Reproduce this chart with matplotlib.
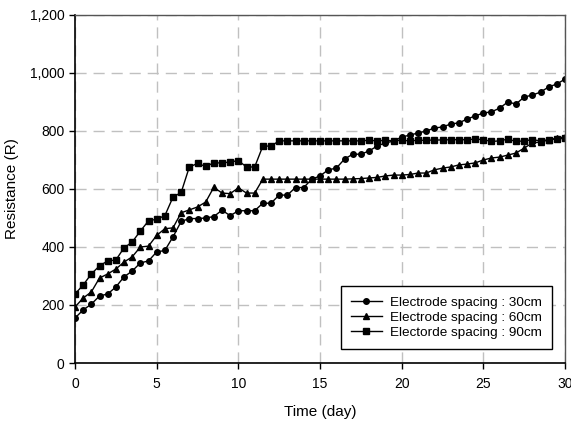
import matplotlib
matplotlib.use('Agg')
import matplotlib.pyplot as plt
import matplotlib.ticker as mticker
import numpy as np

plt.rcParams['font.family'] = ['Liberation Sans', 'DejaVu Sans']

# time axis, 0.5 day steps
days = np.arange(0, 30.5, 0.5)

r_30cm = [155, 183, 203, 231, 238, 262, 297, 317, 345, 352,
          383, 388, 435, 488, 498, 498, 500, 505, 527, 508,
          525, 525, 525, 551, 551, 579, 579, 605, 605, 634,
          645, 666, 672, 703, 720, 720, 731, 748, 759, 765,
          779, 786, 793, 800, 810, 814, 824, 828, 841, 852,
          862, 866, 879, 900, 893, 917, 924, 934, 952, 962, 979]

r_60cm = [193, 224, 245, 293, 307, 324, 348, 366, 400, 403,
          440, 463, 466, 518, 528, 538, 555, 606, 586, 584,
          604, 586, 586, 634, 634, 634, 634, 634, 634, 634,
          634, 634, 634, 634, 635, 636, 638, 640, 645, 648,
          648, 650, 655, 655, 666, 672, 676, 683, 686, 690,
          700, 707, 710, 717, 724, 741, 759, 762, 769, 776, 779]

r_90cm = [238, 269, 307, 335, 352, 355, 397, 417, 455, 490,
          496, 508, 572, 588, 676, 688, 678, 690, 690, 693,
          698, 676, 676, 748, 748, 766, 766, 766, 766, 766,
          766, 766, 766, 766, 766, 766, 768, 766, 768, 766,
          768, 766, 768, 768, 769, 769, 770, 770, 770, 772,
          770, 764, 766, 772, 764, 766, 770, 766, 770, 772, 775]

labels = ['Electrode spacing : 30cm', 'Electrode spacing : 60cm',
          'Electorde spacing : 90cm']

fig = plt.figure(figsize=(5.71, 4.23), dpi=100)
ax = fig.add_axes([75/571, 1-363/423, 490/571, 348/423])

ax.plot(days, r_30cm, 'k-o', lw=1, ms=4, label=labels[0])
ax.plot(days, r_60cm, 'k-^', lw=1, ms=4.5, label=labels[1])
ax.plot(days, r_90cm, 'k-s', lw=1, ms=4.5, label=labels[2])

ax.set_xlim(0, 30)
ax.set_ylim(0, 1200)
ax.set_xticks(range(0, 31, 5))
ax.set_yticks(range(0, 1201, 200))
ax.yaxis.set_major_formatter(mticker.FuncFormatter(lambda v, p: f'{int(v):,}'))
ax.tick_params(direction='out', length=4, width=1, labelsize=10, colors='k')
ax.tick_params(axis='x', pad=6)
ax.tick_params(top=False, right=False)

ax.grid(True, color='#c0c0c0', ls=(0, (8, 5)), lw=1)
ax.set_axisbelow(True)

for s in ['left', 'bottom']:
    ax.spines[s].set_color('k')
    ax.spines[s].set_linewidth(1.2)
for s in ['top', 'right']:
    ax.spines[s].set_color('#555555')
    ax.spines[s].set_linewidth(1)

ax.set_xlabel('Time (day)', fontsize=11, labelpad=10)
ax.set_ylabel('Resistance (R)', fontsize=11, labelpad=8)

leg = ax.legend(loc='lower right', bbox_to_anchor=(1-13/490, 14/348),
                borderaxespad=0, fontsize=9.7, fancybox=False, framealpha=1,
                edgecolor='k', handlelength=2.3, handletextpad=0.6,
                labelspacing=0.2, borderpad=0.75)
leg.get_frame().set_linewidth(1)

fig.savefig('out.png', dpi=100)
